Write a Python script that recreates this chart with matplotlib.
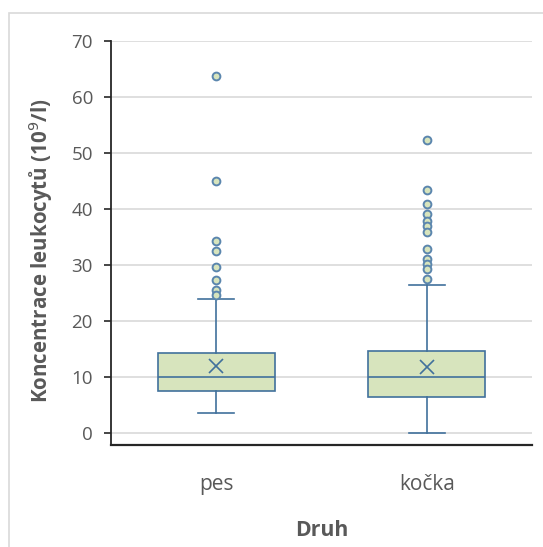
import matplotlib
matplotlib.use("Agg")
import matplotlib.pyplot as plt
from matplotlib.patches import Rectangle

categories = ["pes", "kočka"]
q1 = [7.5, 6.4]
median = [10.0, 10.0]
q3 = [14.3, 14.6]
whisker_low = [3.6, 0.0]
whisker_high = [24.0, 26.4]
means = [12.0, 11.9]
outliers = [
    [63.7, 45.0, 34.3, 32.6, 29.6, 27.4, 25.5, 24.6],
    [52.3, 43.4, 40.9, 39.2, 37.8, 36.9, 35.9, 32.9, 31.1, 30.2, 29.3, 27.6],
]
yticks = [0, 10, 20, 30, 40, 50, 60, 70]

blue = "#41719C"
green = "#D7E4BD"
grey_text = "#595959"
font = ["Open Sans", "DejaVu Sans"]
plt.rcParams["font.family"] = font

fig = plt.figure(figsize=(5.43, 5.47), dpi=100)
fig.patches.append(Rectangle((9 / 543, -0.1), 1.2, 1 - 13 / 547 + 0.1,
                             transform=fig.transFigure, fill=False,
                             edgecolor="#D9D9D9", linewidth=1.2))
ax = fig.add_axes([111 / 543, 1 - 445 / 547, (532 - 111) / 543, (445 - 41) / 547])

stats = []
for i, c in enumerate(categories):
    stats.append(dict(label=c, q1=q1[i], med=median[i], q3=q3[i],
                      whislo=whisker_low[i], whishi=whisker_high[i],
                      mean=means[i], fliers=outliers[i]))

ax.bxp(stats, positions=[1, 2], widths=0.555, patch_artist=True,
       showmeans=True, showfliers=True,
       boxprops=dict(facecolor=green, edgecolor=blue, linewidth=1.2),
       medianprops=dict(color=blue, linewidth=1.2),
       whiskerprops=dict(color=blue, linewidth=1.2),
       capprops=dict(color=blue, linewidth=1.2),
       capwidths=0.17,
       meanprops=dict(marker="x", markeredgecolor=blue, markersize=10,
                      markeredgewidth=1.2),
       flierprops=dict(marker="o", markerfacecolor=green, markeredgecolor="#5B86AE",
                       markersize=5.6, markeredgewidth=1.4))

ax.set_xlim(0.5, 2.5)
ax.set_ylim(-2.1, 70)
ax.set_yticks(yticks)
ax.yaxis.grid(True, color="#D9D9D9", linewidth=1.2)
ax.set_axisbelow(True)
for s in ["top", "right"]:
    ax.spines[s].set_visible(False)
ax.spines["left"].set_bounds(-2.1, 70)
ax.spines["left"].set_color("#262626")
ax.spines["bottom"].set_color("#262626")
ax.spines["left"].set_linewidth(1.3)
ax.spines["bottom"].set_linewidth(1.6)
ax.tick_params(axis="y", direction="out", length=5, width=1.2, color="#262626",
               pad=8, labelsize=13.5, labelcolor=grey_text)
ax.tick_params(axis="x", length=0, pad=21, labelsize=15, labelcolor=grey_text)
ax.set_xticks([1, 2])
ax.set_xticklabels(categories)

ax.set_ylabel("Koncentrace leukocytů (10$^9$/l)", fontsize=14.8, fontweight="bold",
              color=grey_text)
ax.yaxis.set_label_coords(-0.134, 0.482)
ax.set_xlabel("Druh", fontsize=15.3, fontweight="bold", color=grey_text, labelpad=18)

fig.savefig("out.png", dpi=100)
